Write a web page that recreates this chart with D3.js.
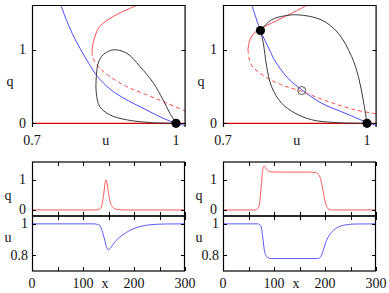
<!DOCTYPE html>
<html><head><meta charset="utf-8">
<script src="https://cdn.jsdelivr.net/npm/d3@7"></script>
<style>body{margin:0;background:#fff}svg{display:block}svg text{font-family:"DejaVu Serif",serif}</style>
</head><body><div id="c"></div>
<script>
// ---- data ----
// top-left phase plane (u, q)
const tlBlue = [[0.760,1.61],[0.772,1.40],[0.784,1.22],[0.800,1.02],[0.818,0.82],[0.836,0.64],[0.862,0.47],[0.889,0.35],[0.939,0.18],[0.973,0.07],[1.0,0.0],[1.02,-0.03]];
const tlRedSolid = [[0.921,1.612],[0.869,1.453],[0.841,1.317],[0.831,1.181],[0.826,1.045],[0.825,0.977]];
const tlRedDash = [[0.825,0.977],[0.827,0.887],[0.841,0.751],[0.862,0.637],[0.897,0.501],[0.939,0.388],[0.981,0.275],[1.02,0.165]];
const tlOrbit = [[1.0,0.0],[0.946,0.011],[0.897,0.048],[0.862,0.116],[0.841,0.229],[0.834,0.411],[0.834,0.637],[0.838,0.819],[0.848,0.932],[0.869,1.0],[0.897,0.955],[0.925,0.773],[0.953,0.547],[0.973,0.32],[0.987,0.139],[1.0,0.0]];
const tlDots = [[1.0,0.0]];
// top-right phase plane (u, q)
const trBlue = [[0.760,1.612],[0.778,1.263],[0.797,1.0],[0.807,0.864],[0.835,0.615],[0.864,0.456],[0.905,0.275],[0.954,0.139],[0.996,0.024],[1.02,-0.03]];
const trRedSolid = [[0.877,1.612],[0.843,1.499],[0.808,1.385],[0.780,1.295],[0.765,1.227],[0.756,1.136],[0.752,1.0]];
const trRedDash = [[0.752,1.0],[0.759,0.796],[0.787,0.637],[0.822,0.524],[0.864,0.433],[0.919,0.297],[0.975,0.184],[1.02,0.129]];
const trOrbitOuter = [[0.778,1.263],[0.801,1.408],[0.829,1.463],[0.856,1.476],[0.905,1.408],[0.940,1.227],[0.968,0.909],[0.982,0.637],[0.992,0.32],[1.0,0.0]];
const trOrbitInner = [[0.778,1.263],[0.784,1.091],[0.791,0.773],[0.801,0.501],[0.822,0.275],[0.850,0.139],[0.885,0.048],[0.933,0.011],[1.0,0.0]];
const trDots = [[0.778,1.263],[1.0,0.0]];
const trOpen = [[0.864,0.446]];
// bottom-left time series (x, value)
const blQ = [[0,0],[125,0],[132,0.02],[136,0.1],[140,0.45],[143,0.85],[145,1.0],[147,0.9],[150,0.55],[153,0.28],[157,0.12],[162,0.04],[170,0.01],[180,0],[300,0]];
const blU = [[0,1],[120,1],[128,0.997],[133,0.99],[137,0.96],[140,0.93],[143,0.89],[146,0.855],[149,0.836],[152,0.84],[158,0.865],[165,0.895],[172,0.915],[185,0.945],[198,0.968],[215,0.985],[231,0.994],[260,0.999],[300,1]];
// bottom-right time series
const brQ = [[0,0],[60,0],[66,0.02],[70,0.1],[72,0.25],[75,0.8],[78,1.35],[80,1.45],[82,1.44],[85,1.36],[89,1.29],[95,1.26],[120,1.255],[170,1.255],[182,1.24],[187,1.18],[191,1.05],[195,0.75],[199,0.38],[203,0.12],[207,0.03],[215,0],[300,0]];
const brU = [[0,1],[68,1],[72,0.995],[75,0.98],[77,0.94],[79,0.885],[81,0.835],[84,0.8],[88,0.785],[95,0.779],[185,0.779],[189,0.782],[193,0.8],[197,0.835],[203,0.895],[208,0.925],[213,0.947],[220,0.967],[226,0.98],[235,0.99],[246,0.996],[260,0.999],[300,1]];
// ticks
const phaseQTicks = [0,1];
const phaseUTickLabels = ["0.7","1"];
const phaseUTickValues = [0.7,1];
const xTicks = [0,50,100,150,200,250,300];
const xTickLabels = [0,100,200,300];
const qTicks = [0,1];
const uTicks = [0.8,1];

const W=389,H=293;
const svg = d3.select("#c").append("svg").attr("width",W).attr("height",H);
const BLUE="#4a4aff", RED="#ff4a4a", DARKRED="#d40000", GRAY="#3a3a3a";
function txt(x,y,s,anchor){
  return svg.append("text").attr("x",x).attr("y",y).attr("text-anchor",anchor||"middle")
    .style("font-family","'Liberation Serif', 'Times New Roman', Times, serif").style("font-size","14px").attr("fill","#111").text(s);
}
let clipId=0;
function clip(x0,y0,x1,y1){
  const id="cp"+(clipId++);
  svg.append("clipPath").attr("id",id).append("rect").attr("x",x0).attr("y",y0).attr("width",x1-x0).attr("height",y1-y0);
  return "url(#"+id+")";
}
function drawLine(g,data,x,y,color,opts={}){
  const ln=d3.line().x(d=>x(d[0])).y(d=>y(d[1])).curve(opts.curve||d3.curveCatmullRom.alpha(0.5));
  const p=g.append("path").attr("d",ln(data)).attr("fill","none").attr("stroke",color).attr("stroke-width",opts.w||1);
  if(opts.dash) p.attr("stroke-dasharray",opts.dash);
  return p;
}

function phasePanel(x0,x1,data){
  const x=d3.scaleLinear([0.7,1.02],[x0,x1]);
  const y=d3.scaleLinear([-0.05,1.61],[127,5]);
  const g=svg.append("g").attr("clip-path",clip(x0,5,x1,127));
  drawLine(g,[[0.7,0],[1.02,0]],x,y,DARKRED,{curve:d3.curveLinear,w:1.3});
  drawLine(g,data.blue,x,y,BLUE);
  drawLine(g,data.redSolid,x,y,RED);
  drawLine(g,data.redDash,x,y,RED,{dash:"4,3"});
  data.orbits.forEach(o=>drawLine(g,o,x,y,GRAY));
  const f=svg.append("g").attr("stroke","#000").attr("fill","none");
  f.append("path").attr("d",`M${x0+0.5},127V5.5H${x1-0.5}V127`).attr("stroke-width",1.2);
  phaseQTicks.forEach(t=>{
    const yy=Math.round(y(t))+0.5;
    f.append("line").attr("x1",x0).attr("x2",x0+4).attr("y1",yy).attr("y2",yy);
    f.append("line").attr("x1",x1-4).attr("x2",x1).attr("y1",yy).attr("y2",yy);
    txt(x0-6,y(t)+4.5,String(t),"end");
  });
  phaseUTickValues.forEach((t,i)=>txt(x(t),145,phaseUTickLabels[i]));
  txt((x0+x1)/2-3,145,"u");
  txt(x0-22,86,"q");
  (data.dots||[]).forEach(d=>svg.append("circle").attr("cx",x(d[0])).attr("cy",y(d[1])).attr("r",4.6).attr("fill","#000"));
  (data.open||[]).forEach(d=>svg.append("circle").attr("cx",x(d[0])).attr("cy",y(d[1])).attr("r",4).attr("fill","none").attr("stroke","#555").attr("stroke-width",1));
}

phasePanel(32,185.6,{blue:tlBlue,redSolid:tlRedSolid,redDash:tlRedDash,orbits:[tlOrbit],dots:tlDots});
phasePanel(223,376.6,{blue:trBlue,redSolid:trRedSolid,redDash:trRedDash,orbits:[trOrbitOuter,trOrbitInner],dots:trDots,open:trOpen});

function timePanel(x0,x1,qData,uData){
  const x=d3.scaleLinear([0,300],[x0,x1]);
  const yq=d3.scaleLinear([-0.2,1.6],[216,161.7]);
  const yu=d3.scaleLinear([0.7,1.05],[271,216]);
  const g1=svg.append("g").attr("clip-path",clip(x0,161.7,x1,216));
  drawLine(g1,qData,x,yq,"#ff5a5a",{curve:d3.curveMonotoneX});
  const g2=svg.append("g").attr("clip-path",clip(x0,216,x1,271));
  drawLine(g2,uData,x,yu,"#5a5aff",{curve:d3.curveMonotoneX});
  const f=svg.append("g").attr("stroke","#000").attr("fill","none");
  f.append("rect").attr("x",x0+0.5).attr("y",162).attr("width",x1-x0-1).attr("height",54).attr("stroke-width",1.2);
  f.append("rect").attr("x",x0+0.5).attr("y",216).attr("width",x1-x0-1).attr("height",55).attr("stroke-width",1.2);
  xTicks.forEach(t=>{
    const xx=Math.round(x(t))+0.5;
    [[162,166],[216,212],[216,220],[271,267]].forEach(([a,b])=>f.append("line").attr("x1",xx).attr("x2",xx).attr("y1",a).attr("y2",b));
  });
  qTicks.forEach(t=>{
    const yy=Math.round(yq(t))+0.5;
    f.append("line").attr("x1",x0).attr("x2",x0+4).attr("y1",yy).attr("y2",yy);
    f.append("line").attr("x1",x1-4).attr("x2",x1).attr("y1",yy).attr("y2",yy);
    txt(x0-6,yq(t)+4.5,String(t),"end");
  });
  uTicks.forEach(t=>{
    const yy=Math.round(yu(t))+0.5;
    f.append("line").attr("x1",x0).attr("x2",x0+4).attr("y1",yy).attr("y2",yy);
    f.append("line").attr("x1",x1-4).attr("x2",x1).attr("y1",yy).attr("y2",yy);
    txt(x0-4,yu(t)+4.5,t===1?"1":"0.8","end");
  });
  xTickLabels.forEach(t=>txt(x(t),288,String(t)));
  txt(x0+73,288,"x");
  txt(x0-24,200,"q");
  txt(x0-24,242,"u");
}
timePanel(32,185,blQ,blU);
timePanel(223,376,brQ,brU);
</script></body></html>
